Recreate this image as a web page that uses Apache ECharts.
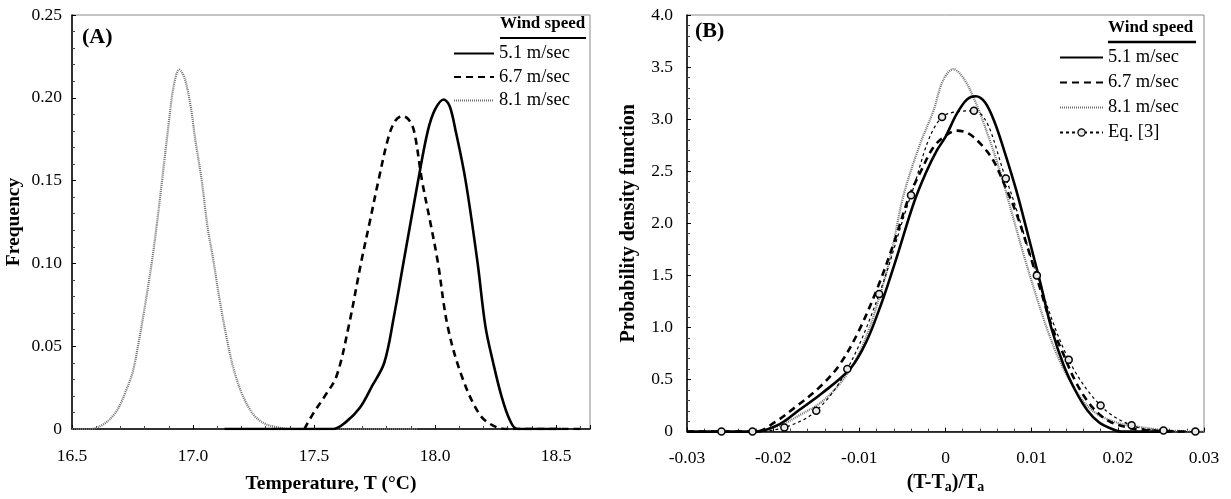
<!DOCTYPE html>
<html>
<head>
<meta charset="utf-8">
<script src="https://cdn.jsdelivr.net/npm/echarts@6/dist/echarts.min.js"></script>
<style>
html,body{margin:0;padding:0;background:#fff;}
#c{width:1231px;height:499px;}
</style>
</head>
<body>
<div id="c"></div>
<script>
// ---------- Panel A data (Temperature vs Frequency) ----------
var seriesNames = ['5.1 m/sec', '6.7 m/sec', '8.1 m/sec'];
var eqName = 'Eq. [3]';

var xA51 = [17.13, 17.58, 17.63, 17.69, 17.74, 17.79, 17.83, 17.87, 17.93, 17.97, 18.0, 18.036, 18.06, 18.085, 18.126, 18.175, 18.208, 18.24, 18.274, 18.307, 18.34, 18.52];
var yA51 = [0, 0, 0.004, 0.013, 0.026, 0.040, 0.068, 0.101, 0.150, 0.180, 0.193, 0.199, 0.195, 0.180, 0.150, 0.101, 0.062, 0.040, 0.020, 0.006, 0, 0];

var xA67 = [17.46, 17.495, 17.545, 17.593, 17.643, 17.695, 17.73, 17.766, 17.807, 17.835, 17.864, 17.89, 17.913, 17.946, 17.98, 18.011, 18.052, 18.11, 18.183, 18.24, 18.30, 18.61];
var yA67 = [0, 0.009, 0.02, 0.032, 0.062, 0.101, 0.125, 0.150, 0.176, 0.186, 0.189, 0.187, 0.180, 0.150, 0.125, 0.101, 0.062, 0.032, 0.009, 0.002, 0, 0];

var xA81 = [16.50, 16.58, 16.62, 16.65, 16.68, 16.70, 16.72, 16.75, 16.775, 16.80, 16.83, 16.85, 16.872, 16.90, 16.92, 16.943, 16.965, 16.99, 17.01, 17.036, 17.06, 17.085, 17.11, 17.143, 17.17, 17.20, 17.23, 17.26, 17.30, 17.35, 17.40, 17.93];
var yA81 = [0, 0, 0.002, 0.005, 0.010, 0.015, 0.022, 0.034, 0.052, 0.073, 0.101, 0.123, 0.150, 0.185, 0.207, 0.217, 0.212, 0.195, 0.174, 0.150, 0.122, 0.101, 0.078, 0.052, 0.035, 0.022, 0.013, 0.007, 0.003, 0.001, 0, 0];

// ---------- Panel B data ((T-Ta)/Ta vs PDF) ----------
var xB51 = [-0.03, -0.022, -0.0193, -0.0171, -0.0143, -0.011, -0.0092, -0.0074, -0.0056, -0.0037, -0.0023, -0.001, 0, 0.0013, 0.0025, 0.0035, 0.0046, 0.0057, 0.0068, 0.0082, 0.0096, 0.011, 0.0123, 0.0137, 0.0151, 0.0165, 0.0178, 0.0192, 0.0204, 0.026];
var yB51 = [0, 0, 0.07, 0.2, 0.37, 0.61, 0.86, 1.24, 1.69, 2.19, 2.48, 2.70, 2.83, 3.05, 3.19, 3.22, 3.16, 2.97, 2.70, 2.32, 1.88, 1.43, 0.99, 0.64, 0.39, 0.2, 0.09, 0.03, 0, 0];

var xB67 = [-0.03, -0.022, -0.0198, -0.0175, -0.0147, -0.0124, -0.0101, -0.0078, -0.006, -0.0042, -0.0028, -0.0014, 0, 0.0013, 0.0027, 0.0041, 0.0055, 0.0068, 0.0082, 0.0096, 0.011, 0.0123, 0.0137, 0.0151, 0.0165, 0.0178, 0.0192, 0.0211, 0.0229, 0.0252, 0.028];
var yB67 = [0, 0, 0.09, 0.23, 0.42, 0.63, 0.96, 1.40, 1.81, 2.26, 2.51, 2.73, 2.84, 2.89, 2.86, 2.76, 2.61, 2.38, 2.10, 1.75, 1.37, 1.02, 0.74, 0.48, 0.29, 0.17, 0.09, 0.04, 0.015, 0.005, 0];

var xB81 = [-0.0225, -0.0207, -0.0189, -0.0171, -0.0143, -0.0117, -0.0096, -0.0076, -0.0062, -0.0049, -0.003, -0.0014, -0.0003, 0.0009, 0.0022, 0.0036, 0.005, 0.0064, 0.0078, 0.0091, 0.0105, 0.0119, 0.0133, 0.0147, 0.016, 0.0174, 0.0188, 0.0206, 0.0229, 0.0252, 0.0275, 0.03];
var yB81 = [0, 0.02, 0.07, 0.15, 0.29, 0.52, 0.83, 1.31, 1.75, 2.26, 2.75, 3.08, 3.37, 3.48, 3.38, 3.14, 2.83, 2.48, 2.07, 1.69, 1.31, 0.96, 0.67, 0.45, 0.29, 0.18, 0.12, 0.07, 0.04, 0.015, 0.005, 0];

var xBeq = [-0.026, -0.0224, -0.0187, -0.0150, -0.0114, -0.0077, -0.0040, -0.0004, 0.0033, 0.0070, 0.0106, 0.0143, 0.0180, 0.0216, 0.0253, 0.0290];
var yBeq = [0, 0, 0.04, 0.2, 0.6, 1.32, 2.27, 3.02, 3.08, 2.43, 1.5, 0.69, 0.25, 0.06, 0.01, 0];

// ---------- tick settings ----------
var xTicksA = {min: 16.5, max: 18.64, interval: 0.5};
var yTicksA = {min: 0, max: 0.25, interval: 0.05};
var xTicksB = {min: -0.03, max: 0.03, interval: 0.01};
var yTicksB = {min: 0, max: 4, interval: 0.5};

function zip(xs, ys) { return xs.map(function (x, i) { return [x, ys[i]]; }); }

var FONT = 'Liberation Serif';
var styles = {
  '5.1 m/sec': {color: '#000', width: 2.6, type: 'solid'},
  '6.7 m/sec': {color: '#000', width: 2.6, type: [7, 5]},
  '8.1 m/sec': {color: '#6e6e6e', width: 2.2, type: [1, 1]},
  'Eq. [3]': {color: '#000', width: 1.2, type: [3, 3]}
};

function mkSeries(name, xs, ys, idx) {
  var st = styles[name];
  return {
    name: name, type: 'line', xAxisIndex: idx, yAxisIndex: idx,
    data: zip(xs, ys), smooth: 0.35, showSymbol: false, symbol: 'none',
    lineStyle: {color: st.color, width: st.width, type: st.type},
    itemStyle: {color: st.color},
    z: name === '8.1 m/sec' ? 1 : 2,
    animation: false
  };
}

var axisCommon = {
  axisLine: {show: true, onZero: false, lineStyle: {color: '#000', width: 1.5}},
  axisTick: {show: true, inside: true, length: 4, lineStyle: {color: '#000'}},
  minorTick: {show: true, splitNumber: 5, length: 3, lineStyle: {color: '#444'}},
  splitLine: {show: false}
};
function ax(extra) { return Object.assign({}, JSON.parse(JSON.stringify(axisCommon)), extra); }

function legendData(names) {
  return names.map(function (n) {
    return n === eqName
      ? {name: n, itemStyle: {opacity: 1, color: '#e8e8e8', borderColor: '#000', borderWidth: 1.2}}
      : {name: n};
  });
}

var labelFont = {color: '#000', fontFamily: FONT, fontSize: 17.5};
var nameFont = {fontFamily: FONT, fontSize: 19.5, fontWeight: 'bold', color: '#000'};
var legendText = {fontFamily: FONT, fontSize: 18.5, color: '#000', lineHeight: 18};

var chart = echarts.init(document.getElementById('c'), null, {renderer: 'canvas'});
var option = {
  backgroundColor: '#fff',
  animation: false,
  grid: [
    {left: 72, top: 15, width: 518, height: 422, show: true, borderColor: '#8a8a8a', borderWidth: 1},
    {left: 687, top: 15, width: 517, height: 422, show: true, borderColor: '#8a8a8a', borderWidth: 1}
  ],
  xAxis: [
    ax({type: 'value', gridIndex: 0, min: xTicksA.min, max: xTicksA.max, interval: xTicksA.interval,
      name: 'Temperature, T (°C)', nameLocation: 'middle', nameGap: 45, nameTextStyle: nameFont,
      axisLabel: Object.assign({margin: 18, showMaxLabel: false,
        formatter: function (v) { var k = v / 0.5; return Math.abs(k - Math.round(k)) < 1e-6 ? v.toFixed(1) : ''; }}, labelFont)}),
    ax({type: 'value', gridIndex: 1, min: xTicksB.min, max: xTicksB.max, interval: xTicksB.interval,
      name: '(T-T{sub|a})/T{sub|a}', nameLocation: 'middle', nameGap: 35,
      nameTextStyle: Object.assign({}, nameFont, {fontSize: 20,
        rich: {sub: {fontFamily: FONT, fontSize: 14, fontWeight: 'bold', color: '#000', padding: [9, 0, 0, 0]}}}),
      axisLabel: Object.assign({margin: 18,
        formatter: function (v) { return Math.abs(v) < 1e-9 ? '0' : v.toFixed(2); }}, labelFont)})
  ],
  yAxis: [
    ax({type: 'value', gridIndex: 0, min: yTicksA.min, max: yTicksA.max, interval: yTicksA.interval,
      name: 'Frequency', nameLocation: 'middle', nameGap: 48, nameTextStyle: nameFont,
      axisLabel: Object.assign({margin: 10,
        formatter: function (v) { return v === 0 ? '0' : v.toFixed(2); }}, labelFont)}),
    ax({type: 'value', gridIndex: 1, min: yTicksB.min, max: yTicksB.max, interval: yTicksB.interval,
      name: 'Probability density function', nameLocation: 'middle', nameGap: 48,
      nameTextStyle: Object.assign({}, nameFont, {fontSize: 20}),
      axisLabel: Object.assign({margin: 14,
        formatter: function (v) { return v === 0 ? '0' : v.toFixed(1); }}, labelFont)})
  ],
  legend: [
    {id: 'legA', orient: 'vertical', left: 453, top: 44, padding: 0, itemWidth: 40, itemHeight: 10, itemGap: 4.5,
      selectedMode: false, itemStyle: {opacity: 0},
      data: legendData(seriesNames), textStyle: legendText},
    {id: 'legB', orient: 'vertical', left: 1059, top: 48, padding: 0, itemWidth: 43, itemHeight: 9, itemGap: 6,
      selectedMode: false, itemStyle: {opacity: 0},
      data: legendData(seriesNames.concat([eqName])), textStyle: legendText}
  ],
  graphic: [
    {type: 'text', left: 82, top: 26, style: {text: '(A)', fontFamily: FONT, fontSize: 22, fontWeight: 'bold', fill: '#000'}},
    {type: 'text', left: 695, top: 20, style: {text: '(B)', fontFamily: FONT, fontSize: 22, fontWeight: 'bold', fill: '#000'}},
    {type: 'text', left: 500, top: 15, style: {text: 'Wind speed', fontFamily: FONT, fontSize: 17, fontWeight: 'bold', fill: '#000'}},
    {type: 'line', shape: {x1: 500, y1: 38, x2: 586, y2: 38}, style: {stroke: '#000', lineWidth: 2}},
    {type: 'text', left: 1108, top: 19, style: {text: 'Wind speed', fontFamily: FONT, fontSize: 17, fontWeight: 'bold', fill: '#000'}},
    {type: 'line', shape: {x1: 1108, y1: 42, x2: 1196, y2: 42}, style: {stroke: '#000', lineWidth: 2.5}}
  ],
  series: [
    mkSeries('5.1 m/sec', xA51, yA51, 0),
    mkSeries('6.7 m/sec', xA67, yA67, 0),
    mkSeries('8.1 m/sec', xA81, yA81, 0),
    mkSeries('5.1 m/sec', xB51, yB51, 1),
    mkSeries('6.7 m/sec', xB67, yB67, 1),
    mkSeries('8.1 m/sec', xB81, yB81, 1),
    Object.assign(mkSeries('Eq. [3]', xBeq, yBeq, 1), {
      showSymbol: true, symbol: 'circle', symbolSize: 7,
      itemStyle: {color: '#e8e8e8', borderColor: '#000', borderWidth: 1.5}
    })
  ]
};
chart.setOption(option);
</script>
</body>
</html>
